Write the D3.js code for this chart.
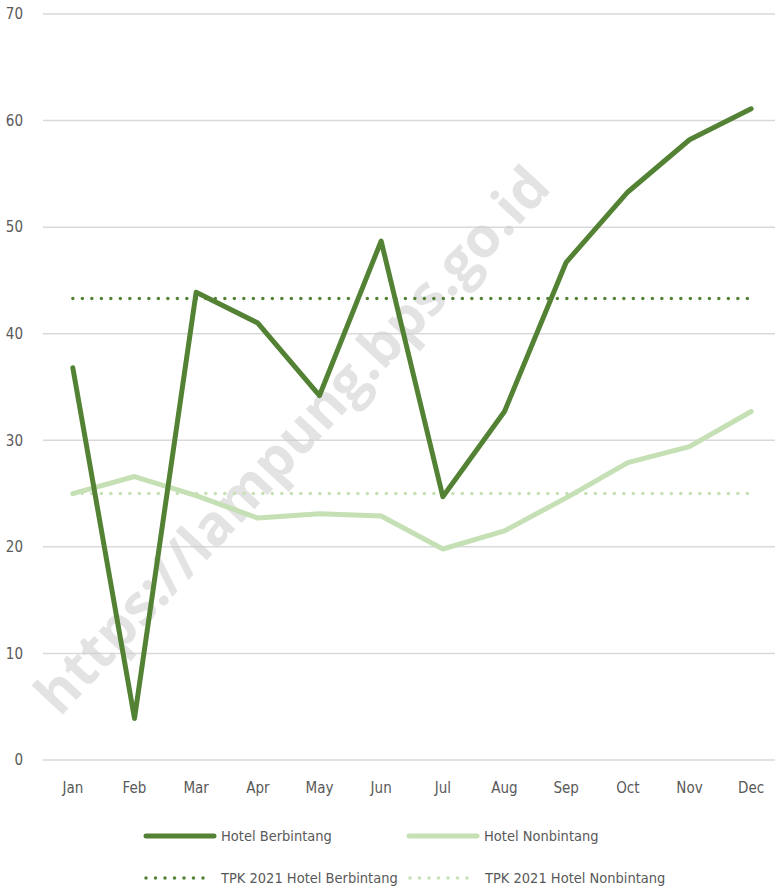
<html lang="en">
<head>
<meta charset="UTF-8">
<title>TPK Hotel 2022</title>
<script src="https://cdn.jsdelivr.net/npm/d3@7"></script>
<style>
  body { margin: 0; background: #fff; }
  text { font-family: "Liberation Sans Narrow", "DejaVu Sans Condensed", "Roboto", sans-serif; }
</style>
</head>
<body>
<svg id="chart"></svg>
<script>
// data
var months = ["Jan","Feb","Mar","Apr","May","Jun","Jul","Aug","Sep","Oct","Nov","Dec"];
var berbintang = [36.8, 3.9, 43.9, 41.0, 34.2, 48.7, 24.7, 32.7, 46.7, 53.3, 58.2, 61.1];
var nonbintang = [25.0, 26.6, 24.8, 22.7, 23.1, 22.9, 19.8, 21.5, 24.6, 27.9, 29.4, 32.7];
var tpk2021Berbintang = 43.3;
var tpk2021Nonbintang = 25.0;
var yTicks = [0, 10, 20, 30, 40, 50, 60, 70];

var W = 775, H = 889;
var svg = d3.select("#chart").attr("width", W).attr("height", H);

var x = d3.scalePoint().domain(months).range([42, 782]).padding(0.5);
var y = d3.scaleLinear().domain([0, 70]).range([760, 14]);

// gridlines
svg.append("g").selectAll("line")
  .data(yTicks).enter().append("line")
  .attr("x1", 43).attr("x2", W)
  .attr("y1", function(d){ return y(d); })
  .attr("y2", function(d){ return y(d); })
  .attr("stroke", "#d9d9d9").attr("stroke-width", 1.5);

// y labels
svg.append("g").selectAll("text")
  .data(yTicks).enter().append("text")
  .attr("x", 23).attr("y", function(d){ return y(d); })
  .attr("dy", "0.35em").attr("text-anchor", "end")
  .attr("fill", "#595959").style("font-size", "15px")
  .text(function(d){ return d; });

// x labels
svg.append("g").selectAll("text")
  .data(months).enter().append("text")
  .attr("x", function(d){ return x(d); }).attr("y", 793)
  .attr("text-anchor", "middle")
  .attr("fill", "#595959").style("font-size", "15px")
  .text(function(d){ return d; });

// watermark
svg.append("text")
  .attr("transform", "translate(292,440) rotate(-47)")
  .attr("text-anchor", "middle")
  .attr("dy", "0.35em")
  .attr("fill", "#cccccc").attr("fill-opacity", 0.55)
  .style("font-family", "'Open Sans', 'DejaVu Sans', sans-serif")
  .style("font-weight", "bold").style("font-size", "56px")
  .text("https://lampung.bps.go.id");

var dark = "#548235", light = "#c5e0b4";

// reference lines
function refLine(v, color) {
  svg.append("line")
    .attr("x1", x(months[0])).attr("x2", x(months[months.length-1]))
    .attr("y1", y(v)).attr("y2", y(v))
    .attr("stroke", color).attr("stroke-width", 3.5)
    .attr("stroke-linecap", "round").attr("stroke-dasharray", "0 9.5");
}
refLine(tpk2021Berbintang, dark);
refLine(tpk2021Nonbintang, light);

var line = d3.line()
  .x(function(d, i){ return x(months[i]); })
  .y(function(d){ return y(d); });

svg.append("path").datum(nonbintang)
  .attr("d", line).attr("fill", "none")
  .attr("stroke", light).attr("stroke-width", 5)
  .attr("stroke-linejoin", "round").attr("stroke-linecap", "round");

svg.append("path").datum(berbintang)
  .attr("d", line).attr("fill", "none")
  .attr("stroke", dark).attr("stroke-width", 5)
  .attr("stroke-linejoin", "round").attr("stroke-linecap", "round");

// legend
var legend = [
  {label: "Hotel Berbintang", color: dark, dotted: false, x: 146, y: 836},
  {label: "Hotel Nonbintang", color: light, dotted: false, x: 409, y: 836},
  {label: "TPK 2021 Hotel Berbintang", color: dark, dotted: true, x: 146, y: 878},
  {label: "TPK 2021 Hotel Nonbintang", color: light, dotted: true, x: 410, y: 878}
];
var lg = svg.append("g").selectAll("g").data(legend).enter().append("g");
lg.append("line")
  .attr("x1", function(d){ return d.x; })
  .attr("x2", function(d){ return d.dotted ? d.x + 60 : d.x + 68; })
  .attr("y1", function(d){ return d.y; }).attr("y2", function(d){ return d.y; })
  .attr("stroke", function(d){ return d.color; })
  .attr("stroke-width", function(d){ return d.dotted ? 3.5 : 5; })
  .attr("stroke-linecap", "round")
  .attr("stroke-dasharray", function(d){ return d.dotted ? "0 9.5" : null; });
lg.append("text")
  .attr("x", function(d){ return d.x + 75; })
  .attr("y", function(d){ return d.y; }).attr("dy", "0.35em")
  .attr("fill", "#595959").style("font-size", "14.5px")
  .text(function(d){ return d.label; });
</script>
</body>
</html>
